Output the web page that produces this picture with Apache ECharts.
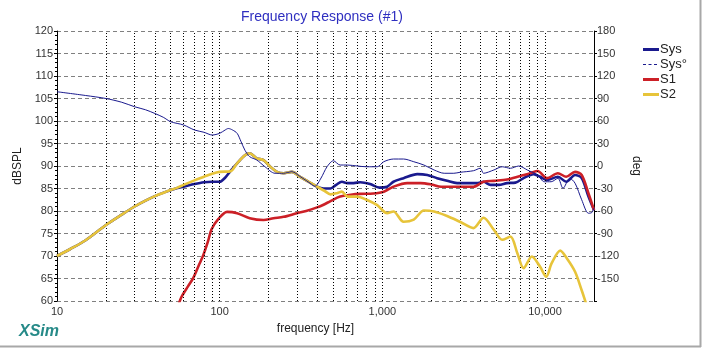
<!DOCTYPE html>
<html>
<head>
<meta charset="utf-8">
<script src="https://cdn.jsdelivr.net/npm/echarts@6/dist/echarts.min.js"></script>
<style>
  html, body { margin: 0; padding: 0; background: #fff; }
  #chart { width: 703px; height: 349px; }
</style>
</head>
<body>
<div id="chart"></div>
<script>
// Frequency axis decade labels
const freqTicks = [10, 100, 1000, 10000];
// Minor frequency grid positions
const freqGrid = [20, 30, 40, 50, 60, 70, 80, 90, 100, 200, 300, 400, 500, 600, 700, 800, 900,
  1000, 2000, 3000, 4000, 5000, 6000, 7000, 8000, 9000, 10000];

// Sys: system magnitude (dB SPL)
const sysFreq = [10, 12, 15, 20, 25, 30, 35, 40, 47, 55, 60, 70, 80, 90, 100, 108, 116, 128, 143, 153,
  169, 186, 204, 225, 247, 278, 312, 352, 397, 435, 480, 520, 564, 610, 667, 730, 840, 960, 1070, 1170,
  1350, 1640, 1890, 2170, 2500, 2880, 3320, 3800, 4190, 4620, 5200, 5840, 6570, 7380, 8500, 9330,
  10300, 12000, 13500, 15300, 16800, 18500, 20000];
const sysDb = [70.0, 71.5, 73.5, 76.9, 79.2, 81.0, 82.3, 83.3, 84.3, 85.1, 85.4, 86.0, 86.4, 86.5, 86.5, 87.4, 88.8, 90.6, 92.4, 92.8,
  91.7, 91.3, 89.9, 88.7, 88.4, 88.7, 87.6, 86.5, 85.4, 85.0, 85.0, 85.8, 86.5, 86.2, 86.2, 86.4, 86.0, 85.2, 85.4, 86.5,
  87.3, 88.2, 88.0, 87.3, 86.7, 86.2, 86.2, 86.2, 86.5, 85.8, 85.8, 86.2, 86.3, 87.3, 88.2, 87.6,
  86.9, 87.6, 86.5, 88.0, 87.3, 83.2, 80.2];

// Sys°: system phase (deg)
const phaseFreq = [10, 15, 20, 25, 30, 35, 40, 45, 50, 60, 70, 80, 90, 100, 108, 113, 120, 128, 135, 143,
  153, 169, 190, 219, 247, 278, 312, 360, 385, 420, 457, 500, 550, 610, 700, 800, 930, 1020, 1170, 1350,
  1560, 1800, 2080, 2400, 2750, 3000, 3630, 4000, 4190, 4850, 5450, 6130, 6900, 7780, 8990, 9900,
  10900, 12000, 12900, 14200, 15300, 16800, 18500, 19400, 20000];
const phaseDeg = [99, 94, 90, 85, 79, 75, 70, 65, 59, 54.7, 48, 45, 41.3, 43.6, 48, 50, 48, 43.6, 33, 21,
  12.4, 8, -1, -9.7, -9.7, -7.6, -14, -23, -27, -16, -1, 7, 1.3, 1.3, 0, -1, -1, 5.7, 9.3, 9.3,
  5.7, 1.3, -5.3, -9.7, -9.7, -8.4, -6.3, -3, -9.7, -5.3, -1, -3, 0, -5.3, -12, -21,
  -21, -16.4, -29.7, -16.4, -23, -45, -63, -62, -56];

// S1: woofer section magnitude (dB SPL)
const s1Freq = [55, 58.4, 64, 69, 75, 79.5, 85, 89, 98, 111, 128, 153, 186, 214, 247, 298, 340, 397,
  435, 480, 550, 640, 730, 880, 1020, 1170, 1420, 1720, 2000, 2300, 2880, 3630, 4190, 4850, 5840,
  7040, 8130, 8990, 10300, 12000, 13500, 15300, 16800, 18500, 20000];
const s1Db = [58.5, 61.0, 63.3, 65.2, 68.2, 70.3, 73.4, 75.9, 78.2, 79.8, 79.5, 78.4, 78.0, 78.4, 78.7, 79.5, 80.0, 80.8,
  81.4, 82.2, 83.2, 83.6, 83.8, 83.9, 84.3, 85.4, 86.2, 86.2, 85.9, 85.4, 85.4, 85.4, 86.5, 86.7, 87.0,
  87.8, 88.4, 88.9, 87.3, 88.4, 87.6, 88.7, 88.0, 83.9, 80.2];

// S2: tweeter-path magnitude (dB SPL)
const s2Freq = [10, 12, 15, 20, 25, 30, 35, 40, 47, 55, 60, 70, 80, 90, 100, 116, 128, 143, 153, 169,
  186, 204, 225, 247, 278, 312, 352, 397, 440, 480, 530, 564, 610, 700, 800, 930, 1070, 1170, 1350,
  1560, 1800, 2080, 2500, 3000, 3630, 4190, 4850, 5450, 6130, 6760, 7380, 8300, 9330, 10170, 10990,
  12400, 13600, 15300, 16800, 17600, 18200];
const s2Db = [70.0, 71.5, 73.5, 76.9, 79.2, 81.0, 82.3, 83.3, 84.3, 85.2, 85.8, 86.8, 87.6, 88.3, 88.7, 88.8, 90.6, 92.4, 92.8, 91.7,
  91.3, 89.9, 88.7, 88.4, 88.7, 87.6, 86.5, 85.4, 84.5, 83.7, 84.0, 84.3, 83.2, 83.2, 82.5, 81.3, 79.5, 79.9, 77.6,
  78.1, 80.1, 79.9, 78.9, 77.6, 76.2, 78.5, 75.8, 73.6, 74.3, 70.6, 67.3, 69.9, 67.6, 65.4, 68.4,
  71.2, 69.5, 66.5, 62.4, 60.2, 58.5];

const zip = (xs, ys) => xs.map((x, i) => [x, ys[i]]);

const FONT = "'Liberation Sans', Arial, sans-serif";
const NAVY = '#1a1a8e';
const RED = '#cc2027';
const GOLD = '#e7c43a';

// Legend glyphs: a thick bar, and a thin dashed bar for the phase trace
const ICON_SOLID = 'path://M0,0M16,10M0,3.5h16v3h-16z';
const ICON_DASHED = 'path://M0,0M16,10M0,4.5h3v1h-3zM5.5,4.5h3v1h-3zM11,4.5h3v1h-3z';

const chart = echarts.init(document.getElementById('chart'), null, { renderer: 'canvas' });

chart.setOption({
  animation: false,
  backgroundColor: '#fff',
  title: {
    text: 'Frequency Response (#1)',
    left: 236,
    top: 5,
    textStyle: { fontFamily: FONT, fontSize: 14, fontWeight: 'normal', color: '#2f2fc0' }
  },
  legend: {
    orient: 'vertical',
    left: 638,
    top: 38,
    itemWidth: 16,
    itemHeight: 10,
    itemGap: 2,
    itemStyle: { borderWidth: 0 },
    textStyle: { fontFamily: FONT, fontSize: 13, color: '#222', padding: [0, 0, 0, -4] },
    data: [
      { name: 'Sys', icon: ICON_SOLID },
      { name: 'Sys°', icon: ICON_DASHED },
      { name: 'S1', icon: ICON_SOLID },
      { name: 'S2', icon: ICON_SOLID }
    ]
  },
  graphic: [
    {
      type: 'text', left: 19, top: 324,
      style: { text: 'XSim', font: "italic bold 16px 'Liberation Sans', Arial", fill: '#268a88' }
    },
    { type: 'line', shape: { x1: 700.5, y1: 0, x2: 700.5, y2: 347 }, style: { stroke: '#a8a8a8', lineWidth: 2 } },
    { type: 'line', shape: { x1: 0, y1: 346.5, x2: 701, y2: 346.5 }, style: { stroke: '#a8a8a8', lineWidth: 2 } }
  ],
  grid: { left: 57, right: 109, top: 31, bottom: 48 },
  xAxis: {
    type: 'log',
    logBase: 10,
    min: 10,
    max: 20000,
    name: 'frequency [Hz]',
    nameLocation: 'middle',
    nameGap: 22,
    nameTextStyle: { fontFamily: FONT, fontSize: 12, color: '#222', padding: [0, 20, 0, 0] },
    axisLine: { show: false },
    axisTick: { show: true, length: 3, lineStyle: { color: '#000' } },
    splitLine: { show: false },
    axisLabel: {
      fontFamily: FONT, fontSize: 11, color: '#333', margin: 5,
      showMaxLabel: false,
      formatter: v => {
        const r = Math.round(v);
        return freqTicks.indexOf(r) >= 0 ? r.toLocaleString('en-US') : '';
      }
    }
  },
  yAxis: [
    {
      type: 'value', min: 60, max: 120, interval: 5,
      name: 'dBSPL', nameLocation: 'middle', nameGap: 27,
      nameTextStyle: { fontFamily: FONT, fontSize: 12, color: '#222' },
      axisLine: { show: true, onZero: false, lineStyle: { color: '#000', width: 1 } },
      axisTick: { show: true, length: 3, lineStyle: { color: '#000' } },
      minorTick: { show: true, splitNumber: 5, length: 2, lineStyle: { color: '#000' } },
      axisLabel: { fontFamily: FONT, fontSize: 11, color: '#333', margin: 4 },
      splitLine: { show: true, lineStyle: { color: '#808080', type: [4, 3], width: 1 } }
    },
    {
      type: 'value', min: -180, max: 180, interval: 30, position: 'right',
      name: 'deg', nameLocation: 'middle', nameGap: 26, nameRotate: -90,
      nameTextStyle: { fontFamily: FONT, fontSize: 12, color: '#222' },
      axisLine: { show: true, onZero: false, lineStyle: { color: '#000', width: 1 } },
      axisTick: { show: true, length: 3, lineStyle: { color: '#000' } },
      axisLabel: {
        fontFamily: FONT, fontSize: 11, color: '#333', margin: 3,
        formatter: v => (v === -180 ? '' : String(v))
      },
      splitLine: { show: false }
    }
  ],
  series: [
    {
      // vertical frequency grid
      name: 'grid', type: 'line', data: [], z: 1, silent: true,
      markLine: {
        silent: true, symbol: ['none', 'none'], label: { show: false },
        lineStyle: { color: '#000', type: [1, 2], width: 1 },
        emphasis: { disabled: true },
        data: freqGrid.map(f => ({ xAxis: f }))
      }
    },
    {
      name: 'Sys', type: 'line', data: zip(sysFreq, sysDb), yAxisIndex: 0,
      showSymbol: false, symbol: 'none', smooth: 0.3, z: 3,
      lineStyle: { color: NAVY, width: 2.6 }, itemStyle: { color: NAVY }
    },
    {
      name: 'S1', type: 'line', data: zip(s1Freq, s1Db), yAxisIndex: 0,
      showSymbol: false, symbol: 'none', smooth: 0.3, z: 4,
      lineStyle: { color: RED, width: 2.6 }, itemStyle: { color: RED }
    },
    {
      name: 'S2', type: 'line', data: zip(s2Freq, s2Db), yAxisIndex: 0,
      showSymbol: false, symbol: 'none', smooth: 0.3, z: 5,
      lineStyle: { color: GOLD, width: 2.6 }, itemStyle: { color: GOLD }
    },
    {
      name: 'Sys°', type: 'line', data: zip(phaseFreq, phaseDeg), yAxisIndex: 1,
      showSymbol: false, symbol: 'none', smooth: 0.3, z: 6,
      lineStyle: { color: NAVY, width: 1 }, itemStyle: { color: NAVY }
    }
  ]
});
</script>
</body>
</html>
